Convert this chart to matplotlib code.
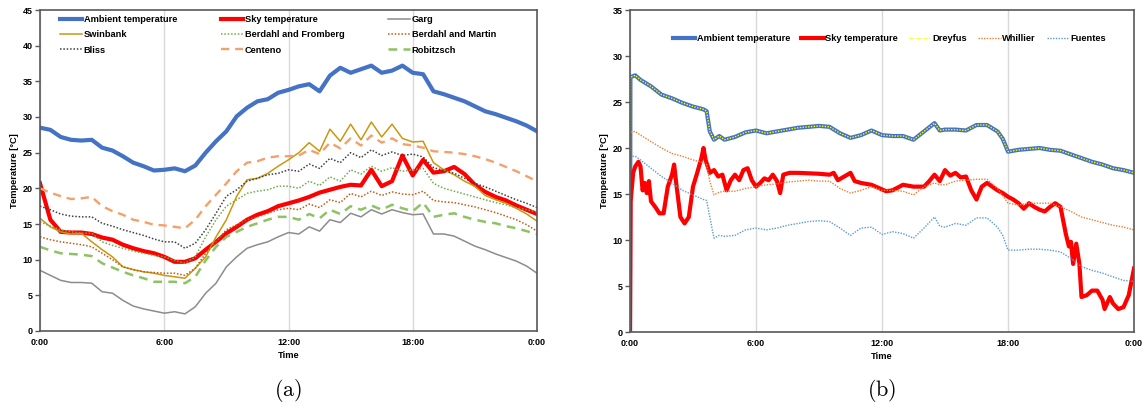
import matplotlib
matplotlib.use('Agg')
import matplotlib.pyplot as plt

plt.rcParams['font.family'] = ['Liberation Sans', 'DejaVu Sans']
plt.rcParams['font.weight'] = 'bold'

# ---------------- data : panel (a) ----------------
hours_a = [0, 0.5, 1, 1.5, 2, 2.5, 3, 3.5, 4, 4.5, 5, 5.5, 6, 6.5, 7, 7.5, 8, 8.5,
           9, 9.5, 10, 10.5, 11, 11.5, 12, 12.5, 13, 13.5, 14, 14.5, 15, 15.5, 16,
           16.5, 17, 17.5, 18, 18.5, 19, 19.5, 20, 20.5, 21, 21.5, 22, 22.5, 23, 23.5, 24]

ambient_a = [28.5, 28.2, 27.2, 26.8, 26.7, 26.8, 25.7, 25.3, 24.5, 23.6, 23.1, 22.5, 22.6,
             22.8, 22.4, 23.2, 25.0, 26.6, 28.0, 30.1, 31.3, 32.2, 32.5, 33.4, 33.8, 34.3,
             34.6, 33.6, 35.8, 36.9, 36.2, 36.7, 37.2, 36.2, 36.5, 37.2, 36.2, 36.0, 33.6,
             33.2, 32.7, 32.2, 31.5, 30.8, 30.4, 29.9, 29.4, 28.8, 28.0]
sky_a = [20.7, 15.6, 13.9, 13.8, 13.8, 13.6, 13.1, 12.8, 12.1, 11.6, 11.2, 10.9, 10.4,
         9.7, 9.7, 10.2, 11.4, 12.5, 13.7, 14.6, 15.6, 16.3, 16.8, 17.5, 17.9, 18.3,
         18.8, 19.4, 19.8, 20.2, 20.5, 20.4, 22.6, 20.3, 21.0, 24.6, 21.8, 24.0, 22.2,
         22.4, 23.0, 22.0, 20.5, 19.5, 18.8, 18.3, 17.6, 17.0, 16.4]
garg = [8.5, 7.8, 7.1, 6.8, 6.8, 6.7, 5.5, 5.3, 4.3, 3.5, 3.1, 2.8, 2.5, 2.7, 2.4, 3.4,
        5.3, 6.7, 9.0, 10.4, 11.6, 12.1, 12.5, 13.2, 13.8, 13.6, 14.6, 14.0, 15.6, 15.2,
        16.5, 16.0, 17.0, 16.4, 17.0, 16.6, 16.3, 16.4, 13.6, 13.6, 13.3, 12.6, 11.9,
        11.4, 10.8, 10.3, 9.8, 9.1, 8.1]
swinbank = [15.8, 14.6, 13.9, 13.6, 13.7, 12.5, 11.4, 10.4, 9.0, 8.6, 8.3, 8.1, 7.8, 7.6,
            7.4, 8.8, 10.4, 13.2, 15.6, 18.9, 21.2, 21.4, 22.1, 23.1, 24.0, 25.0, 26.4,
            25.2, 28.3, 26.6, 29.0, 26.8, 29.3, 27.2, 29.0, 27.0, 26.5, 26.6, 23.6, 22.6,
            21.9, 21.0, 20.3, 19.0, 18.4, 17.9, 17.2, 16.4, 15.4]
berdahl_fromberg = [15.3, 14.7, 14.2, 13.9, 13.7, 13.7, 12.5, 12.0, 11.6, 11.2, 10.9,
                    10.6, 10.4, 9.9, 9.5, 10.4, 13.2, 15.6, 17.5, 18.4, 19.3, 19.6, 19.8,
                    20.3, 20.3, 20.0, 21.0, 20.4, 21.6, 21.0, 22.6, 22.0, 23.1, 22.4, 22.9,
                    22.4, 22.6, 22.8, 20.7, 20.0, 19.6, 19.2, 18.8, 18.4, 18.0, 17.7, 17.3,
                    17.0, 16.7]
berdahl_martin = [13.2, 12.8, 12.5, 12.3, 12.1, 11.8, 10.9, 10.0, 9.0, 8.6, 8.3, 8.2, 8.1,
                  8.1, 7.8, 8.8, 10.9, 12.5, 14.2, 14.9, 15.6, 16.0, 16.5, 17.0, 17.2, 17.0,
                  17.8, 17.3, 18.4, 18.0, 19.3, 18.8, 19.6, 19.0, 19.5, 19.2, 19.1, 19.6,
                  18.3, 18.1, 18.0, 17.7, 17.4, 17.0, 16.6, 16.1, 15.6, 14.9, 14.0]
bliss = [17.5, 17.0, 16.4, 16.1, 16.0, 16.0, 15.1, 14.7, 14.2, 13.8, 13.4, 12.9, 12.5,
         12.5, 11.6, 12.3, 14.2, 16.5, 18.9, 19.8, 21.0, 21.4, 21.9, 22.1, 22.6, 22.4,
         23.4, 22.8, 24.2, 23.6, 25.0, 24.3, 25.4, 24.6, 25.1, 24.6, 24.8, 24.4, 22.9,
         22.5, 22.1, 21.4, 20.7, 20.2, 19.6, 19.0, 18.4, 17.9, 17.3]
centeno = [20.0, 19.4, 18.9, 18.5, 18.6, 18.8, 17.5, 16.8, 16.3, 15.6, 15.3, 14.9, 14.8,
           14.6, 14.4, 15.6, 17.5, 19.1, 20.7, 22.4, 23.6, 23.8, 24.3, 24.5, 24.5, 24.6,
           25.4, 24.8, 26.4, 25.6, 27.0, 26.0, 27.4, 26.4, 27.0, 26.2, 26.0, 25.7, 25.2,
           25.1, 25.0, 24.8, 24.5, 24.1, 23.6, 23.0, 22.4, 21.7, 21.0]
robitzsch = [11.8, 11.3, 10.9, 10.8, 10.7, 10.5, 9.5, 8.9, 8.3, 7.8, 7.4, 6.9, 6.9, 6.9,
             6.7, 7.6, 9.9, 11.8, 13.2, 13.9, 14.6, 15.1, 15.6, 16.0, 16.0, 15.6, 16.4,
             15.8, 17.0, 16.4, 17.5, 17.0, 17.6, 17.0, 17.7, 17.2, 16.8, 18.0, 16.0, 16.3,
             16.5, 16.0, 15.6, 15.3, 15.1, 14.7, 14.4, 14.0, 13.6]

# ---------------- data : panel (b) ----------------
hours_b = [0, 0.02, 0.25, 0.5, 1, 1.5, 2, 2.5, 3, 3.5, 3.65, 3.8, 4, 4.25, 4.5, 5, 5.5,
           6, 6.5, 7, 7.5, 8, 8.5, 9, 9.5, 10, 10.5, 11, 11.5, 12, 12.5, 13, 13.5, 14,
           14.5, 14.75, 15, 15.5, 16, 16.5, 17, 17.5, 17.75, 18, 18.5, 19, 19.5, 20, 20.5,
           21, 21.5, 22, 22.5, 23, 23.5, 24]
ambient_b = [0, 27.7, 27.9, 27.4, 26.7, 25.8, 25.4, 24.9, 24.5, 24.2, 24.0, 21.8, 20.9,
             21.3, 20.9, 21.2, 21.7, 21.9, 21.6, 21.8, 22.0, 22.2, 22.3, 22.4, 22.3, 21.6,
             21.1, 21.4, 21.9, 21.4, 21.3, 21.3, 20.9, 21.8, 22.7, 21.9, 22.0, 22.0, 21.9,
             22.5, 22.5, 21.8, 21.0, 19.6, 19.8, 19.9, 20.0, 19.8, 19.7, 19.3, 18.9, 18.5,
             18.2, 17.8, 17.6, 17.3]
dreyfus = [0, 27.7, 27.9, 27.4, 26.7, 25.8, 25.4, 24.9, 24.5, 24.2, 24.0, 21.8, 20.9,
           21.3, 20.9, 21.2, 21.7, 21.9, 21.6, 21.8, 22.0, 22.2, 22.3, 22.4, 22.3, 21.6,
           21.1, 21.4, 21.9, 21.4, 21.3, 21.3, 20.9, 21.8, 22.7, 21.9, 22.0, 22.0, 21.9,
           22.5, 22.5, 21.8, 21.0, 19.6, 19.8, 19.9, 20.0, 19.8, 19.7, 19.3, 18.9, 18.5,
           18.2, 17.8, 17.6, 17.3]
whillier = [0, 21.7, 21.8, 21.4, 20.7, 20.0, 19.4, 19.1, 18.7, 18.4, 18.2, 16.4, 14.9,
            15.2, 15.3, 15.3, 15.6, 15.8, 16.0, 16.1, 16.3, 16.4, 16.5, 16.4, 16.4, 15.6,
            15.1, 15.4, 15.8, 15.4, 15.4, 15.3, 14.9, 15.8, 16.2, 16.0, 16.0, 16.4, 16.5,
            16.6, 16.6, 15.6, 14.8, 14.0, 13.8, 14.0, 14.0, 14.0, 13.6, 13.1, 12.5, 12.2,
            11.9, 11.6, 11.4, 11.1]
fuentes = [0, 19.1, 19.1, 18.7, 17.8, 16.9, 16.2, 15.4, 14.9, 14.4, 14.3, 12.5, 10.2,
           10.5, 10.4, 10.5, 11.1, 11.3, 11.1, 11.3, 11.6, 11.8, 12.0, 12.1, 12.0, 11.3,
           10.5, 11.3, 11.4, 10.6, 10.9, 10.7, 10.2, 11.3, 12.5, 11.5, 11.4, 11.8, 11.6,
           12.4, 12.4, 11.4, 10.5, 8.9, 8.9, 9.0, 9.0, 8.9, 8.7, 8.0, 7.1, 6.7, 6.4, 6.0,
           5.6, 5.5]
sky_hours_b = [0, 0.03, 0.15, 0.25, 0.4, 0.5, 0.6, 0.7, 0.8, 0.9, 1.0, 1.2, 1.4, 1.6,
               1.8, 2.0, 2.1, 2.2, 2.4, 2.6, 2.8, 3.0, 3.2, 3.4, 3.5, 3.6, 3.8, 4.0, 4.2,
               4.4, 4.6, 4.8, 5.0, 5.2, 5.4, 5.6, 5.8, 6.0, 6.2, 6.4, 6.6, 6.8, 7.0, 7.15,
               7.3, 7.6, 8.0, 9.0, 9.5, 9.7, 9.9, 10.2, 10.5, 10.7, 11.0, 11.5, 11.9, 12.2,
               12.5, 13.0, 13.5, 14.0, 14.25, 14.5, 14.75, 15.0, 15.25, 15.5, 15.75, 16.0,
               16.25, 16.5, 16.75, 17.0, 17.25, 17.5, 17.75, 18.0, 18.25, 18.5, 18.75,
               19.0, 19.25, 19.5, 19.75, 20.0, 20.25, 20.5, 20.75, 20.9, 21.0, 21.1,
               21.25, 21.4, 21.5, 21.75, 22.0, 22.25, 22.5, 22.6, 22.85, 23.0, 23.25,
               23.5, 23.75, 24.0]
sky_b = [0, 14.2, 17.3, 18.0, 18.5, 18.0, 15.4, 16.2, 15.1, 16.4, 14.2, 13.6, 12.9, 12.9,
         15.8, 17.1, 18.2, 16.2, 12.5, 11.8, 12.5, 15.8, 17.3, 18.9, 20.0, 18.7, 17.3,
         17.6, 16.9, 17.1, 15.4, 16.5, 17.1, 16.5, 17.6, 17.8, 16.5, 15.8, 16.2, 16.7,
         16.5, 17.1, 16.4, 15.1, 17.1, 17.3, 17.3, 17.2, 17.1, 17.3, 16.5, 16.9, 17.3,
         16.4, 16.2, 16.0, 15.6, 15.3, 15.4, 16.0, 15.8, 15.8, 16.4, 17.1, 16.4, 17.6,
         17.0, 17.3, 16.8, 16.9, 15.4, 14.4, 15.8, 16.2, 15.8, 15.4, 15.1, 14.7, 14.4,
         14.0, 13.4, 14.0, 13.6, 13.3, 13.1, 13.6, 14.0, 13.6, 10.7, 9.3, 9.8, 7.4, 9.6,
         7.4, 3.8, 4.0, 4.5, 4.5, 3.5, 2.5, 3.8, 3.1, 2.5, 2.7, 4.0, 6.9]

tick_hours = [0, 6, 12, 18, 24]
tick_labels = ['0:00', '6:00', '12:00', '18:00', '0:00']

# ---------------- figure ----------------
W, H = 1143, 407
fig = plt.figure(figsize=(W / 100, H / 100), dpi=100)
ax1 = fig.add_axes([40 / W, 76 / H, (537 - 40) / W, (397 - 76) / H])
ax2 = fig.add_axes([630 / W, 75 / H, (1134 - 630) / W, (397 - 75) / H])

SPINE = '#595959'


def style(ax, ymax):
    ax.set_xlim(0, 24)
    ax.set_ylim(0, ymax)
    ax.set_xticks(tick_hours)
    ax.set_xticklabels(tick_labels)
    ax.set_yticks(list(range(0, ymax + 1, 5)))
    ax.tick_params(axis='x', length=0, pad=5, labelsize=6.5)
    ax.tick_params(axis='y', length=3.5, width=1, pad=2, labelsize=6.5, color=SPINE)
    for s in ax.spines.values():
        s.set_color(SPINE)
        s.set_linewidth(1.2)
    ax.grid(axis='x', color='#D9D9D9', lw=1)
    ax.grid(axis='y', visible=False)
    ax.set_axisbelow(True)
    ax.set_xlabel('Time', fontsize=6.7, fontweight='bold', labelpad=3)
    ax.set_ylabel('Temperature [°C]', fontsize=6.7, fontweight='bold', labelpad=2)


style(ax1, 45)
style(ax2, 35)

# panel (a)
h_amb, = ax1.plot(hours_a, ambient_a, color='#4472C4', lw=3.0, label='Ambient temperature')
h_sky, = ax1.plot(hours_a, sky_a, color='#FF0000', lw=3.0, label='Sky temperature')
h_garg, = ax1.plot(hours_a, garg, color='#8C8C8C', lw=1.1, label='Garg')
h_swin, = ax1.plot(hours_a, swinbank, color='#C9980E', lw=1.1, label='Swinbank')
h_bf, = ax1.plot(hours_a, berdahl_fromberg, color='#70AD47', lw=1.1, ls=(0, (1, 1.2)),
                 label='Berdahl and Fromberg')
h_bm, = ax1.plot(hours_a, berdahl_martin, color='#C55A11', lw=1.1, ls=(0, (1, 1.2)),
                 label='Berdahl and Martin')
h_bl, = ax1.plot(hours_a, bliss, color='#404040', lw=1.1, ls=(0, (1, 1.2)), label='Bliss')
h_ce, = ax1.plot(hours_a, centeno, color='#F4A06A', lw=1.7, ls=(0, (3.5, 2.5)), label='Centeno')
h_ro, = ax1.plot(hours_a, robitzsch, color='#8DC363', lw=1.8, ls=(0, (3.5, 2.5)),
                 label='Robitzsch')

handles_a = [h_amb, h_swin, h_bl, h_sky, h_bf, h_ce, h_garg, h_bm, h_ro]
fig.legend(handles=handles_a, loc='upper left', bbox_to_anchor=(60 / W, 1 - 15 / H),
           ncol=3, frameon=False, fontsize=6.7, handlelength=2.4, handletextpad=0.15,
           columnspacing=4.7, labelspacing=0.68, borderpad=0, borderaxespad=0)

# panel (b)
g_amb, = ax2.plot(hours_b, ambient_b, color='#4472C4', lw=3.0, label='Ambient temperature')
g_sky, = ax2.plot(sky_hours_b, sky_b, color='#FF0000', lw=3.0, label='Sky temperature')
g_dr, = ax2.plot(hours_b, dreyfus, color='#FFFF00', lw=1.0, ls=(0, (1, 1)), label='Dreyfus')
g_wh, = ax2.plot(hours_b, whillier, color='#ED7D31', lw=1.0, ls=(0, (1, 1)), label='Whillier')
g_fu, = ax2.plot(hours_b, fuentes, color='#5B9BD5', lw=1.0, ls=(0, (1, 1)), label='Fuentes')

fig.legend(handles=[g_amb, g_sky, g_dr, g_wh, g_fu], loc='upper left',
           bbox_to_anchor=(673 / W, 1 - 34 / H), ncol=5, frameon=False, fontsize=6.7,
           handlelength=2.4, handletextpad=0.15, columnspacing=1.2, borderpad=0,
           borderaxespad=0)

fig.text(288 / W, 1 - 391 / H, r'$\mathrm{(a)}$', ha='center', va='center', fontsize=16,
         math_fontfamily='cm', fontweight='normal')
fig.text(882 / W, 1 - 391 / H, r'$\mathrm{(b)}$', ha='center', va='center', fontsize=16,
         math_fontfamily='cm', fontweight='normal')

fig.savefig('out.png', dpi=100)
